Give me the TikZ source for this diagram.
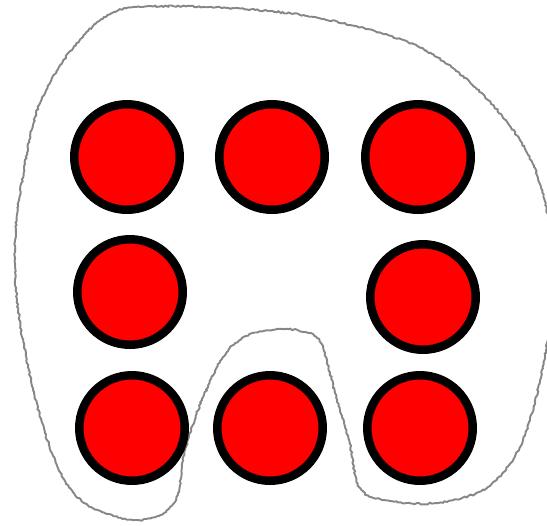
\documentclass[tikz,border=0pt]{standalone}
\usetikzlibrary{decorations.pathmorphing}
\definecolor{dotRed}{RGB}{255,0,0}
\definecolor{penGray}{RGB}{135,135,135}

\begin{document}
\begin{tikzpicture}[
			x=0.02cm,y=-0.02cm,
			dot/.style={
				circle,
				draw=black,
				fill=dotRed,
				line width=0.17cm,
				minimum size=2.11cm,
				inner sep=0pt
			},
			pencil/.style={draw=penGray,line width=1.1pt,
				decorate,decoration={random steps,segment length=1.2pt,amplitude=0.45pt}}
			]
			\useasboundingbox (0,0) rectangle (547,525);
			\clip (0,0) rectangle (547,525);
			\pgfmathsetseed{7}
			% hand drawn group outline
			\draw[pencil] plot[smooth cycle,tension=0.55] coordinates {
				(140,7) (209,7) (314,17) (419,47) (488,100) (534,167) (554,260)
				(546,350) (523,440) (488,487) (436,503) (384,500) (359,487)
				(349,440) (335,393) (321,343) (305,332) (279,329) (246,336)
				(223,357) (202,400) (185,450) (178,493) (164,513) (133,520)
				(91,507) (66,483) (45,433) (28,367) (17,300) (15,250) (19,200)
				(35,117) (59,67) (88,31) (112,13)};
			% top row
			\node[dot](tl) at (127,157) {};
			\node[dot](tm) at (272,157) {};
			\node[dot](tr) at (418,157) {};
			% middle row
			\node[dot](ml) at (130,292) {};
			\node[dot](mr) at (423,297) {};
			% bottom row
			\node[dot](bl) at (132,428) {};
			\node[dot](bm) at (270,428) {};
			\node[dot](br) at (420,428) {};
		\end{tikzpicture}
\end{document}
